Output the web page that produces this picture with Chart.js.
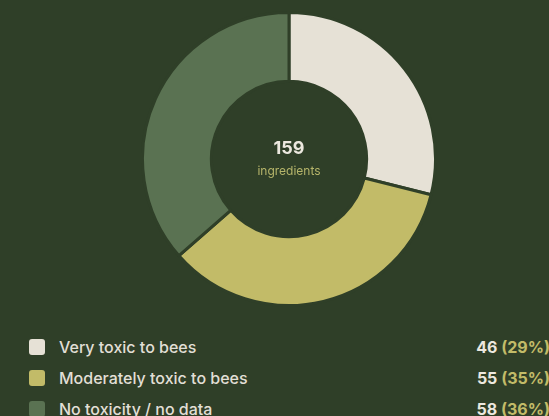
<!DOCTYPE html>
<html>
<head>
<meta charset="utf-8">
<script src="https://cdn.jsdelivr.net/npm/chart.js@4.4.1/dist/chart.umd.min.js"></script>
<style>
  html, body { margin: 0; padding: 0; background: #2f3f28; width: 549px; height: 416px; overflow: hidden; font-family: Inter, "Noto Sans", sans-serif; }
  #wrap { position: absolute; left: 141px; top: 11px; width: 296px; height: 296px; }
  #legend { position: absolute; left: 0; top: 334px; width: 550px; }
  .row { position: relative; height: 31px; line-height: 26px; }
  .sw { position: absolute; left: 29px; top: 5px; width: 16px; height: 16px; border-radius: 3px; }
  .lab { position: absolute; left: 59px; top: 0; color: #e2dfd6; font-size: 16px; font-weight: 500; }
  .val { position: absolute; right: 0; top: 0; color: #ece8df; font-size: 16px; font-weight: 700; white-space: nowrap; }
  .val span { color: #c2bb68; }
</style>
</head>
<body>
<div id="wrap"><canvas id="donut"></canvas></div>
<div id="legend"></div>
<script>
const categories = ['Very toxic to bees', 'Moderately toxic to bees', 'No toxicity / no data'];
const counts = [46, 55, 58];
const colors = ['#e6e1d6', '#c2bb68', '#5a7252'];
const total = counts.reduce((a, b) => a + b, 0);

const legend = document.getElementById('legend');
categories.forEach((c, i) => {
    const pct = Math.round(counts[i] / total * 100);
    const row = document.createElement('div');
    row.className = 'row';
    row.innerHTML = '<div class="sw" style="background:' + colors[i] + '"></div>' +
        '<div class="lab">' + c + '</div>' +
        '<div class="val">' + counts[i] + ' <span>(' + pct + '%)</span></div>';
    legend.appendChild(row);
});

const centerText = {
    id: 'centerText',
    afterDraw(chart) {
        const ctx = chart.ctx;
        const meta = chart.getDatasetMeta(0).data[0];
        const x = meta.x, y = meta.y;
        ctx.save();
        ctx.textAlign = 'center';
        ctx.textBaseline = 'middle';
        ctx.fillStyle = '#ece8df';
        ctx.font = 'bold 18px Inter, "Noto Sans", sans-serif';
        ctx.fillText(String(total), x, y - 10);
        ctx.fillStyle = '#b5b46a';
        ctx.font = '12px Inter, "Noto Sans", sans-serif';
        ctx.fillText('ingredients', x, y + 12);
        ctx.restore();
    }
};

new Chart(document.getElementById('donut'), {
    type: 'doughnut',
    data: {
        labels: categories,
        datasets: [{
            data: counts,
            backgroundColor: colors,
            borderColor: '#2f3f28',
            borderWidth: 3
        }]
    },
    options: {
        responsive: true,
        maintainAspectRatio: false,
        animation: false,
        cutout: '53%',
        plugins: {
            legend: { display: false },
            tooltip: { enabled: false }
        }
    },
    plugins: [centerText]
});
</script>
</body>
</html>
